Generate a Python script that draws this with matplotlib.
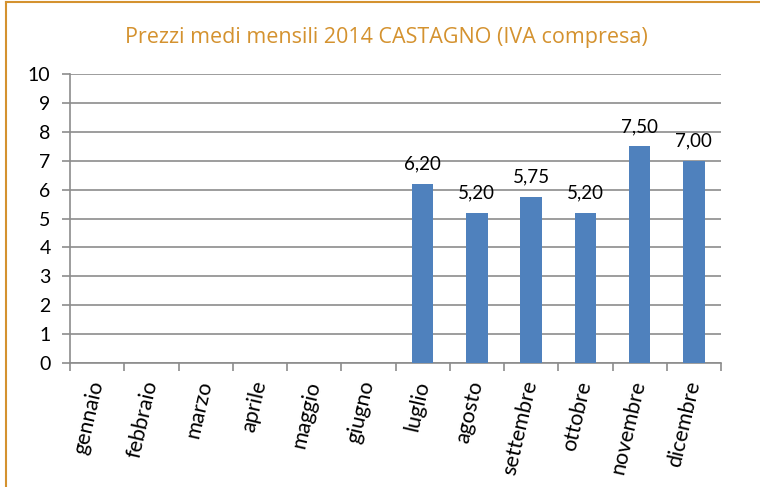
import matplotlib

matplotlib.use("Agg")
import matplotlib.pyplot as plt
import numpy as np
from matplotlib.lines import Line2D

months = ["gennaio", "febbraio", "marzo", "aprile", "maggio", "giugno",
          "luglio", "agosto", "settembre", "ottobre", "novembre", "dicembre"]
prices = [np.nan, np.nan, np.nan, np.nan, np.nan, np.nan,
          6.20, 5.20, 5.75, 5.20, 7.50, 7.00]
title = "Prezzi medi mensili 2014 CASTAGNO (IVA compresa)"

ORANGE = "#D4922F"
BLUE = "#4F81BD"
GRID = "#8C8C8C"

plt.rcParams["font.family"] = ["Lato", "DejaVu Sans"]

fig = plt.figure(figsize=(7.6, 4.87), dpi=100)
ax = fig.add_axes([70 / 760, 1 - 363 / 487, (721 - 70) / 760, (363 - 74) / 487])

x = np.arange(len(months))
ax.bar(x, prices, width=0.4, color=BLUE, zorder=3)
for xi, v in zip(x, prices):
    if np.isnan(v):
        continue
    ax.text(xi, v + 0.38, f"{v:.2f}".replace(".", ","), ha="center", va="bottom",
            fontsize=13.5, color="black")

ax.set_xlim(-0.5, len(months) - 0.5)
ax.set_ylim(0, 10)
ax.set_yticks(range(0, 11))
ax.yaxis.grid(True, color=GRID, linewidth=1.2)
ax.set_axisbelow(True)
for side in ["top", "right"]:
    ax.spines[side].set_visible(False)
ax.spines["left"].set_color(GRID)
ax.spines["bottom"].set_color(GRID)
ax.spines["left"].set_linewidth(1.2)
ax.spines["bottom"].set_linewidth(1.2)

ax.set_xticks(np.arange(-0.5, len(months), 1.0), minor=False)
ax.set_xticklabels([])
ax.tick_params(axis="x", which="major", length=6, color=GRID, width=1.2)
ax.set_xticks(x, minor=True)
ax.set_xticklabels(months, minor=True, rotation=77, ha="right", va="center",
                   rotation_mode="anchor", fontsize=15.5)
ax.tick_params(axis="x", which="minor", length=0, pad=13)
ax.tick_params(axis="y", length=6, color=GRID, width=1.2, labelsize=14, pad=8)

fig.text(386 / 760, 1 - 37 / 487, title, ha="center", va="center",
         fontsize=15.5, color=ORANGE, family=["Open Sans", "DejaVu Sans"])

# frame of the original picture (left and top edges only)
fig.add_artist(Line2D([6 / 760, 6 / 760], [0, 1 - 2 / 487], transform=fig.transFigure,
                      color=ORANGE, linewidth=1.5))
fig.add_artist(Line2D([6 / 760, 1], [1 - 2 / 487, 1 - 2 / 487], transform=fig.transFigure,
                      color=ORANGE, linewidth=1.5))

fig.savefig("out.png", dpi=100)
